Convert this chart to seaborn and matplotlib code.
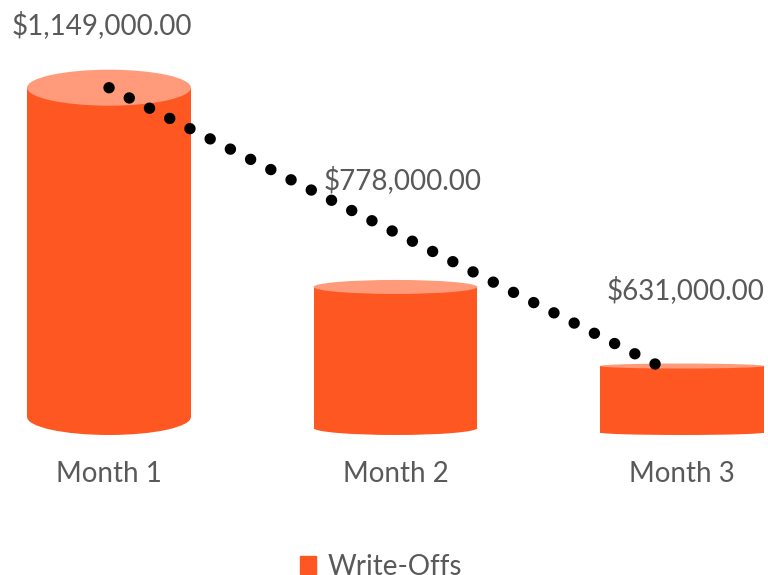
# Write-offs by month, drawn as 3D-style cylinders with a dotted trend line

import matplotlib
matplotlib.use("Agg")
import matplotlib.pyplot as plt
from matplotlib.patches import Ellipse, Patch
import seaborn as sns

months = ["Month 1", "Month 2", "Month 3"]
write_offs = [1149000, 778000, 631000]
value_labels = ["$1,149,000.00", "$778,000.00", "$631,000.00"]
series_name = "Write-Offs"

axis_min = 500  # value axis starts here (thousands)

# --- style ------------------------------------------------------------------
body_color = "#FF5722"
top_color = "#FF9B7A"
text_color = "#595959"
px = 0.5074                     # pixels per thousand on the value axis
depth_px = [18, 7, 2.5]         # half-height of the cylinder ellipses (perspective)
label_shift_px = [(-7, 63), (7, 107), (4, 76)]
trend_end_shift = 0.08

sns.set_theme(style="white")
plt.rcParams["font.family"] = ["Lato", "DejaVu Sans"]

fig = plt.figure(figsize=(7.68, 5.75), dpi=100)
ax = fig.add_axes([0, 1 - 448 / 575, 1, 448 / 575])

thousands = [v / 1000 for v in write_offs]
heights = [v - axis_min for v in thousands]
sns.barplot(x=months, y=heights, color=body_color, width=0.572, saturation=1, ax=ax)

floor = 440 + 13 / px
depth = [d / px for d in depth_px]
tops = []
for i, bar in enumerate(ax.patches):
    base = floor + depth[i]
    bar.set_y(base)
    bar.set_edgecolor("none")
    w = bar.get_width()
    tops.append(base + heights[i])
    ax.add_patch(Ellipse((i, base), w, 2 * depth[i], color=body_color, lw=0, zorder=bar.get_zorder() - 0.1))
    ax.add_patch(Ellipse((i, tops[i]), w, 2 * depth[i], color=top_color, lw=0, zorder=bar.get_zorder() + 0.1))

# dotted trend line from first to last month
ax.plot([0, len(months) - 1 - trend_end_shift], [tops[0], tops[-1]], color="black",
        lw=8.2, linestyle=(0, (0.01, 1.98)), dash_capstyle="round", solid_capstyle="round", zorder=5)

for i, lab in enumerate(value_labels):
    dx, dy = label_shift_px[i]
    ax.annotate(lab, (i, tops[i]), xytext=(dx * 0.72, dy * 0.72), textcoords="offset points",
                ha="center", va="center", fontsize=20, color=text_color)

ax.set_xlim(-109 / 286.5, (768 - 109) / 286.5)
ax.set_ylim(440, 440 + 448 / px)
ax.set_yticks([])
ax.set_ylabel("")
ax.set_xlabel("")
ax.tick_params(axis="x", length=0, pad=9, labelsize=20, labelcolor=text_color)
sns.despine(ax=ax, left=True, bottom=True)

fig.legend(handles=[Patch(color=body_color)], labels=[series_name], loc="center",
           bbox_to_anchor=(0.496, 1 - 567 / 575), frameon=False, fontsize=20,
           labelcolor=text_color, handlelength=0.6, handleheight=0.6, handletextpad=0.4)

fig.savefig("out.png", dpi=100)
